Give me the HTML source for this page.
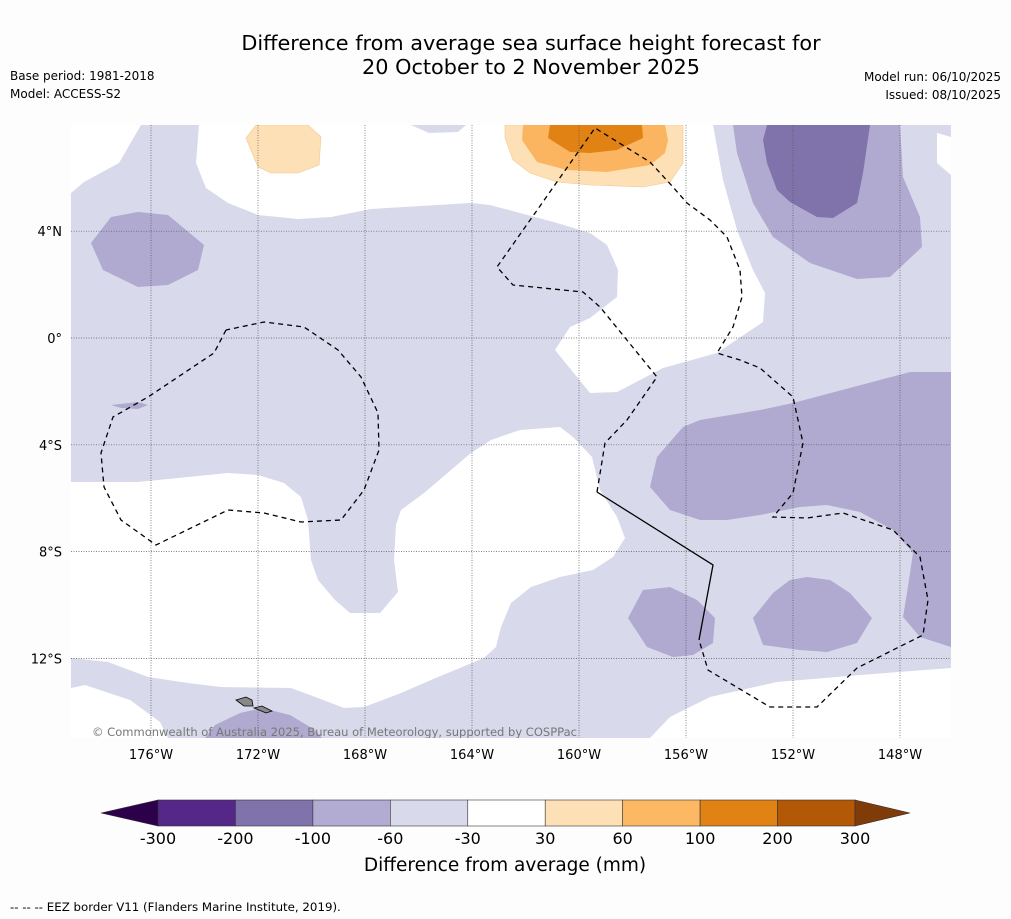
<!DOCTYPE html>
<html><head><meta charset="utf-8">
<style>
body{margin:0;background:#fdfdfd;font-family:"Liberation Sans","DejaVu Sans",sans-serif;}
svg{display:block}
text{font-family:"DejaVu Sans","Liberation Sans",sans-serif;}
</style></head>
<body>
<svg id="chart" width="1011" height="919" viewBox="0 0 1011 919" xmlns="http://www.w3.org/2000/svg">
<rect width="1011" height="919" fill="#fdfdfd"/>
<text x="531" y="50" font-size="20.8" text-anchor="middle" fill="#000">Difference from average sea surface height forecast for</text>
<text x="531" y="74" font-size="20.8" text-anchor="middle" fill="#000">20 October to 2 November 2025</text>
<text x="10" y="80" font-size="12">Base period: 1981-2018</text>
<text x="10" y="98" font-size="12">Model: ACCESS-S2</text>
<text x="1001" y="81" font-size="12" text-anchor="end">Model run: 06/10/2025</text>
<text x="1001" y="99" font-size="12" text-anchor="end">Issued: 08/10/2025</text>
<defs><clipPath id="mapclip"><rect x="71" y="125" width="880" height="613"/></clipPath></defs>
<g id="map" clip-path="url(#mapclip)">
<rect x="71" y="125" width="880" height="613" fill="#d8daeb"/>
<polygon fill="#fff" points="71,125 141,125 119,163 84,182 71,193"/>
<polygon fill="#fff" points="199,125 196,163 206,188 228,203 258,215 298,219 331,217 371,209 471,203 490,205 520,213 557,223 590,233 607,245 618,270 617,297 590,318 570,327 555,350 590,393 617,392 663,368 717,353 763,322 765,293 753,270 737,230 723,180 713,125 466,125 458,132 429,133 411,125"/>
<polygon fill="#fff" points="937,133 951,137 951,175 937,163"/>
<polygon fill="#fff" points="71,482 138,482 188,477 228,473 258,475 284,483 301,497 308,520 311,560 318,580 335,600 350,613 380,613 398,592 394,560 396,525 401,510 424,493 471,453 491,440 520,430 560,427 573,437 592,457 600,490 617,517 625,538 613,557 593,570 560,577 531,587 511,603 501,627 496,647 484,658 438,677 401,693 364,707 344,708 318,698 291,688 221,687 188,683 148,677 108,662 71,658"/>
<polygon fill="#fff" points="71,688 85,685 130,700 160,722 168,738 71,738"/>
<polygon fill="#fff" points="650,738 670,717 710,697 777,682 860,675 951,668 951,738"/>
<polygon fill="#b0a9d0" points="111,217 138,212 168,215 204,245 198,270 168,285 138,287 103,270 91,243"/>
<polygon fill="#b0a9d0" points="111,405 138,402 148,405 138,409 121,408"/>
<polygon fill="#b0a9d0" points="205,738 215,725 240,713 262,708 290,715 315,730 322,738"/>
<polygon fill="#b0a9d0" points="733,125 737,153 753,203 773,237 810,263 857,279 890,277 922,247 920,217 903,177 900,125"/>
<polygon fill="#8073ab" points="767,125 763,140 767,163 777,190 790,202 817,217 833,218 857,203 863,173 870,125"/>
<polygon fill="#b0a9d0" points="683,427 657,457 650,487 670,510 700,520 727,520 760,515 800,507 827,505 860,512 893,530 913,553 907,593 903,617 920,637 951,647 951,372 910,372 793,403 760,410 700,420"/>
<polygon fill="#b0a9d0" points="643,590 670,587 697,600 715,618 713,643 693,655 673,657 647,647 628,618"/>
<polygon fill="#b0a9d0" points="790,580 807,577 830,580 850,593 872,618 857,643 827,652 800,650 763,645 753,618 773,593"/>
<polygon fill="#fee0b6" stroke="#f1c890" stroke-width="0.6" points="256,125 246,138 258,167 271,173 298,173 319,165 321,137 308,125"/>
<polygon fill="#fee0b6" stroke="#f1c890" stroke-width="0.6" points="505,125 505,138 513,160 530,173 557,182 590,185 643,187 670,182 683,163 683,125"/>
<polygon fill="#fbb561" points="523,125 522,140 537,162 567,170 607,172 650,165 665,153 668,140 665,125"/>
<polygon fill="#e08214" points="550,125 548,138 570,152 590,153 617,150 643,138 642,125"/>
<g id="grid" stroke="#555" stroke-width="0.7" stroke-dasharray="1,1.5"></g>
<polyline fill="none" stroke="#000" stroke-width="1.3" stroke-dasharray="5,4" points="226,330 214,353 148,397 113,417 101,453 104,487 121,520 156,545 228,510 264,513 301,522 341,520 364,490 379,450 378,413 361,377 338,350 304,327 264,322 226,330"/>
<polyline fill="none" stroke="#000" stroke-width="1.3" stroke-dasharray="5,4" points="597,492 605,443 627,420 657,377 600,307 583,292 513,285 497,267 595,128 650,162 673,187 687,203 710,220 727,237 740,270 742,297 733,327 717,353 740,360 760,368 793,397 803,443 793,493 773,517 807,518 843,513 893,530 920,557 928,600 923,635 857,668 817,707 770,707 708,670 699,640"/>
<polyline fill="none" stroke="#000" stroke-width="1.3" points="597,492 713,565 699,640"/>
<polygon fill="#888" stroke="#000" stroke-width="0.8" points="236,700 246,697 252,700 253,706 244,706"/>
<polygon fill="#888" stroke="#000" stroke-width="0.8" points="254,708 262,706 272,711 266,713"/>
<text x="92" y="736" font-size="11.5" fill="#777" textLength="485" lengthAdjust="spacingAndGlyphs">© Commonwealth of Australia 2025, Bureau of Meteorology, supported by COSPPac</text>
</g>
<g id="axes"></g>
<g id="colorbar"></g>
<text x="505" y="871" font-size="18.5" text-anchor="middle">Difference from average (mm)</text>
<text x="10" y="911" font-size="11.8">--  --  -- EEZ border V11 (Flanders Marine Institute, 2019).</text>
</svg>
<script>
const lonTicks=[-176,-172,-168,-164,-160,-156,-152,-148];
const latTicks=[4,0,-4,-8,-12];
const cbLevels=[-300,-200,-100,-60,-30,30,60,100,200,300];
const cbColors=["#542788","#8073ac","#b2abd2","#d8daeb","#ffffff","#fee0b6","#fdb863","#e08214","#b35806"];
const cbExtendColors=["#2d004b","#7f3b08"];
const NS="http://www.w3.org/2000/svg";
const xLon=l=>151+(l+176)*26.75;
const yLat=l=>338-l*26.7;
function mk(tag,attrs,parent,txt){const e=document.createElementNS(NS,tag);for(const k in attrs)e.setAttribute(k,attrs[k]);if(txt!==undefined)e.textContent=txt;parent.appendChild(e);return e;}
const grid=document.getElementById('grid'),axes=document.getElementById('axes');
lonTicks.forEach(l=>{const x=xLon(l);
 const g=mk('line',{x1:x,x2:x,y1:125,y2:738},grid);
 
 
 const t=mk('text',{x:x,y:759,'font-size':13,'text-anchor':'middle'},axes,Math.abs(l)+'°W');
 
 
});
latTicks.forEach(l=>{const y=yLat(l);
 const g=mk('line',{x1:71,x2:951,y1:y,y2:y},grid);
 
 
 const lab=l===0?'0°':Math.abs(l)+'°'+(l>0?'N':'S');
 const t=mk('text',{x:62,y:y+5,'font-size':13,'text-anchor':'end'},axes,lab);
 
 
});
const cb=document.getElementById('colorbar');
const cbX0=158,cbX1=855,cbY=800,cbH=26;
const cbX=i=>cbX0+i*(cbX1-cbX0)/(cbLevels.length-1);
cbColors.forEach((c,i)=>{
 const r=mk('rect',{x:cbX(i),y:cbY,width:cbX(i+1)-cbX(i),height:cbH,fill:c,stroke:'#333','stroke-width':0.6},cb);
 
 
});
const tl=mk('polygon',{points:`101,${cbY+cbH/2} ${cbX0},${cbY} ${cbX0},${cbY+cbH}`,fill:cbExtendColors[0],stroke:'#333','stroke-width':0.6},cb);


const tr=mk('polygon',{points:`910,${cbY+cbH/2} ${cbX1},${cbY} ${cbX1},${cbY+cbH}`,fill:cbExtendColors[1],stroke:'#333','stroke-width':0.6},cb);


cbLevels.forEach((v,i)=>{
 const t=mk('text',{x:cbX(i),y:844,'font-size':16,'text-anchor':'middle'},cb,String(v));
 
 
});
</script>
</body></html>
